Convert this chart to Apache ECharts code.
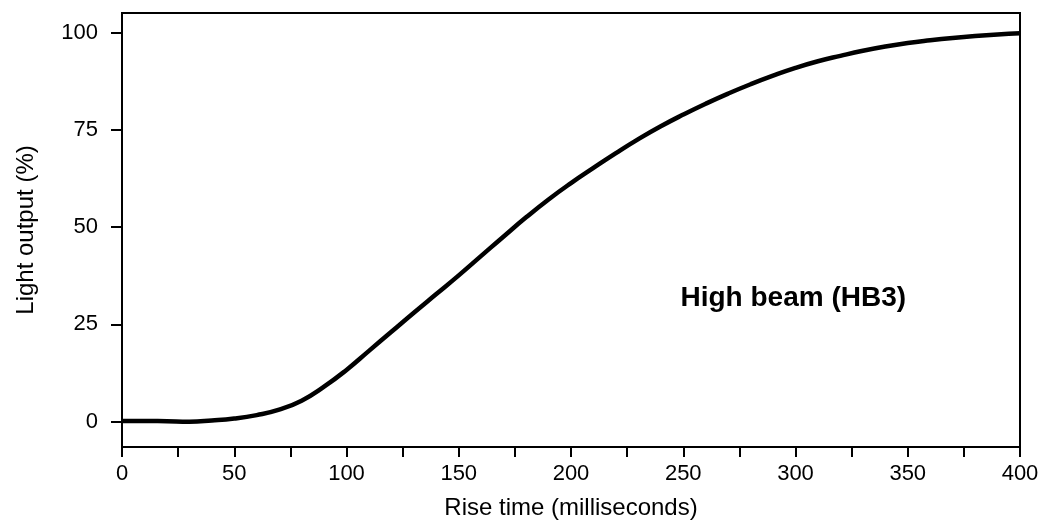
<!DOCTYPE html>
<html>
<head>
<meta charset="utf-8">
<script src="https://cdn.jsdelivr.net/npm/echarts@6/dist/echarts.min.js"></script>
<style>html,body{margin:0;padding:0;background:#fff;}#c{width:1042px;height:525px;}</style>
</head>
<body>
<div id="c"></div>
<script>
const riseTime = [0,10,20,30,40,50,60,70,80,90,100,110,120,130,140,150,160,170,180,190,200,210,220,230,240,250,260,270,280,290,300,310,320,330,340,350,360,370,380,390,400];
const lightOutput = [0.2,0.2,0.1,0.0,0.3,0.8,1.7,3.1,5.4,9.0,13.3,18.2,23.1,28.0,32.8,37.6,42.6,47.6,52.5,57.1,61.3,65.2,69.0,72.6,75.9,78.9,81.7,84.3,86.7,88.9,90.9,92.6,94.0,95.3,96.4,97.3,98.0,98.6,99.1,99.5,99.8];
const yTickValues = [0,25,50,75,100];
const xLabelValues = [0,50,100,150,200,250,300,350,400];
const annotationText = 'High beam (HB3)';
const annotationAt = [299, 31.8];

const font = "'Liberation Sans', Arial, Helvetica, sans-serif";
const chart = echarts.init(document.getElementById('c'), null, {renderer:'canvas'});
chart.setOption({
  animation: false,
  backgroundColor: '#fff',
  grid: {left:122, right:22, top:13, bottom:78, show:true, borderColor:'#000', borderWidth:2, containLabel:false},
  xAxis: {
    type:'value', min:0, max:400, interval:25,
    name:'Rise time (milliseconds)', nameLocation:'middle', nameGap:49,
    nameTextStyle:{fontFamily:font, fontSize:24, color:'#000'},
    axisLine:{onZero:false, lineStyle:{color:'#000', width:2}},
    axisTick:{show:true, inside:false, length:10, lineStyle:{color:'#000', width:2}},
    axisLabel:{fontFamily:font, fontSize:22, color:'#000', margin:16,
      formatter: v => (xLabelValues.indexOf(v) >= 0 ? String(v) : '')},
    splitLine:{show:false}
  },
  yAxis: {
    type:'value', min:-6.5, max:105,
    name:'Light output (%)', nameLocation:'middle', nameGap:84,
    nameTextStyle:{fontFamily:font, fontSize:24, color:'#000'},
    axisLine:{lineStyle:{color:'#000', width:2}},
    axisTick:{show:true, length:11, customValues:yTickValues, lineStyle:{color:'#000', width:2}},
    axisLabel:{fontFamily:font, fontSize:22, color:'#000', margin:24, customValues:yTickValues},
    splitLine:{show:false}
  },
  series: [{
    type:'line', smooth:0.5, symbol:'none',
    data: riseTime.map((t,i)=>[t, lightOutput[i]]),
    lineStyle:{color:'#000', width:4.5},
    markPoint:{
      symbol:'circle', symbolSize:1, itemStyle:{color:'rgba(0,0,0,0)'},
      label:{show:true, position:'inside', formatter:annotationText, fontFamily:font, fontSize:28, fontWeight:'bold', color:'#000'},
      data:[{coord:annotationAt}]
    }
  }]
});
</script>
</body>
</html>
